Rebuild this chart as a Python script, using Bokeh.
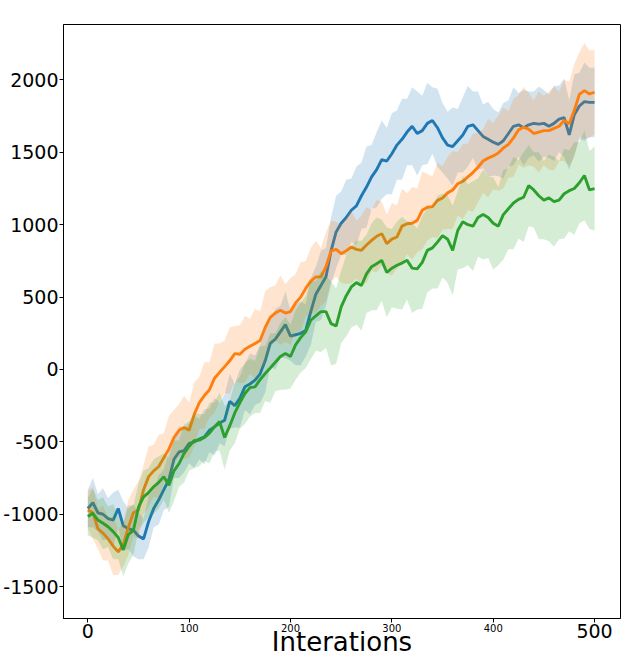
from bokeh.plotting import figure
from bokeh.models import FixedTicker, LinearAxis, ColumnDataSource, Range1d, CustomJSTickFormatter
from bokeh.embed import file_html
from bokeh.resources import INLINE

iterations = list(range(0, 501, 5))

blue_mean = [
    -960, -920, -990, -1000, -1030, -1040, -960, -1080, -1100, -1110,
    -1150, -1170, -1050, -960, -900, -830, -760, -620, -570, -560,
    -510, -500, -480, -465, -420, -396, -370, -350, -220, -250,
    -200, -120, -100, -74, -30, 60, 180, 210, 260, 310,
    230, 240, 250, 270, 400, 520, 580, 640, 820, 950,
    1010, 1050, 1100, 1130, 1200, 1260, 1330, 1380, 1450, 1440,
    1490, 1550, 1590, 1640, 1680, 1630, 1650, 1700, 1720, 1670,
    1600, 1550, 1540, 1580, 1620, 1680, 1690, 1650, 1610, 1590,
    1570, 1555, 1580, 1630, 1680, 1690, 1670, 1690, 1700, 1695,
    1700, 1680, 1700, 1730, 1740, 1620, 1760, 1820, 1850, 1845,
    1845,
]
orange_mean = [
    -970, -990, -1100, -1130, -1170, -1220, -1260, -1210, -1090, -990,
    -970, -830, -740, -700, -670, -610, -550, -470, -420, -400,
    -420, -310, -230, -180, -140, -60, -20, 20, 60, 110,
    105, 140, 160, 180, 200, 290, 360, 390, 410, 390,
    400, 460, 500, 560, 610, 640, 640, 710, 820, 830,
    800, 820, 846, 830, 823, 860, 892, 920, 938, 869,
    900, 915, 990, 1007, 1010, 1030, 1100, 1121, 1125, 1168,
    1185, 1220, 1240, 1283, 1300, 1330, 1360, 1397, 1440, 1460,
    1475, 1495, 1530, 1555, 1600, 1655, 1673, 1660, 1630, 1640,
    1650, 1650, 1665, 1680, 1720, 1697, 1790, 1900, 1926, 1903,
    1915,
]
green_mean = [
    -1016, -993, -1040, -1062, -1086, -1120, -1160, -1246, -1140, -1110,
    -950, -880, -850, -810, -780, -740, -800, -700, -650, -580,
    -530, -490, -488, -470, -440, -396, -360, -470, -390, -300,
    -230, -166, -125, -120, -70, -28, 10, 50, 90, 110,
    90, 170, 220, 260, 340, 370, 400, 400, 317, 300,
    432, 510, 570, 600, 580, 660, 710, 730, 754, 670,
    700, 720, 735, 754, 700, 695, 740, 823, 840, 880,
    925, 900, 823, 960, 1020, 1000, 990, 1050, 1070, 1050,
    1010, 990, 1070, 1110, 1150, 1175, 1190, 1270, 1240, 1200,
    1170, 1185, 1160, 1170, 1214, 1235, 1250, 1290, 1340, 1240,
    1250,
]

blue_std = [
    130, 170, 130, 180, 140, 190, 130, 170, 140, 180,
    160, 140, 180, 130, 170, 140, 190, 130, 180, 150,
    140, 180, 140, 190, 150, 200, 140, 180, 190, 150,
    200, 160, 210, 170, 200, 220, 160, 210, 180, 230,
    170, 210, 220, 180, 230, 190, 240, 200, 230, 250,
    220, 260, 220, 270, 230, 280, 220, 260, 270, 230,
    280, 240, 280, 230, 270, 290, 240, 280, 230, 270,
    240, 230, 270, 220, 260, 280, 230, 270, 220, 260,
    230, 220, 260, 230, 270, 220, 260, 230, 220, 260,
    230, 220, 260, 230, 270, 240, 280, 230, 270, 240,
    240,
]
orange_std = [
    130, 180, 140, 190, 150, 200, 160, 150, 190, 160,
    200, 170, 210, 180, 220, 170, 230, 190, 180, 220,
    190, 220, 180, 230, 190, 240, 200, 180, 230, 190,
    200, 230, 190, 240, 200, 250, 210, 190, 240, 200,
    230, 200, 240, 190, 230, 250, 200, 240, 210, 190,
    200, 230, 250, 200, 240, 260, 210, 250, 220, 200,
    250, 220, 260, 210, 250, 220, 270, 230, 210, 260,
    220, 250, 270, 220, 260, 230, 270, 240, 220, 270,
    230, 260, 280, 230, 270, 240, 280, 250, 230, 280,
    240, 270, 290, 240, 280, 290, 320, 290, 330, 300,
    290,
]
green_std = [
    130, 170, 140, 180, 140, 190, 150, 180, 200, 170,
    160, 180, 170, 190, 180, 160, 190, 210, 160, 200,
    170, 190, 180, 160, 210, 170, 200, 220, 170, 210,
    180, 210, 200, 180, 230, 190, 240, 200, 230, 250,
    220, 240, 240, 250, 270, 240, 280, 250, 290, 260,
    250, 280, 280, 290, 310, 270, 300, 320, 280, 310,
    270, 300, 320, 270, 310, 280, 320, 290, 280, 320,
    290, 300, 310, 270, 320, 280, 310, 270, 310, 280,
    320, 270, 310, 280, 320, 270, 310, 280, 260, 300,
    270, 300, 310, 270, 310, 280, 320, 280, 310, 270,
    290,
]

series = [
    ("#1f77b4", blue_mean, blue_std),
    ("#ff7f0e", orange_mean, orange_std),
    ("#2ca02c", green_mean, green_std),
]

y_ticks = [-1500, -1000, -500, 0, 500, 1000, 1500, 2000]
x_major_ticks = [0, 500]
x_minor_ticks = [100, 200, 300, 400]
x_label = "Interations"

Y0, Y1 = -1720, 2383
X0, X1 = -24, 525.6

p = figure(width=628, height=659, output_backend="svg", toolbar_location=None,
           x_range=Range1d(X0, X1), y_range=Range1d(Y0, Y1),
           min_border_left=62, min_border_right=8, min_border_top=24,
           min_border_bottom=20)
p.background_fill_color = "white"
p.border_fill_color = "white"
p.outline_line_color = "black"
p.outline_line_width = 1
p.xgrid.visible = False
p.ygrid.visible = False

for color, mean, std in series:
    lower = [m - s for m, s in zip(mean, std)]
    upper = [m + s for m, s in zip(mean, std)]
    src = ColumnDataSource(dict(x=iterations, y=mean, lo=lower, hi=upper))
    p.varea(x="x", y1="lo", y2="hi", source=src, fill_color=color, fill_alpha=0.2)
    p.line(x="x", y="y", source=src, line_color=color, line_width=2.9)

font = "DejaVu Sans"
plain = CustomJSTickFormatter(code="return String(tick);")

p.xaxis.ticker = FixedTicker(ticks=x_major_ticks, minor_ticks=x_minor_ticks)
p.yaxis.ticker = FixedTicker(ticks=y_ticks, minor_ticks=[])
for ax in (p.xaxis[0], p.yaxis[0]):
    ax.formatter = plain
    ax.axis_line_color = "black"
    ax.major_tick_line_color = "black"
    ax.minor_tick_line_color = "black"
    ax.major_tick_in = 0
    ax.major_tick_out = 4
    ax.minor_tick_in = 0
    ax.minor_tick_out = 4
    ax.major_label_text_font = font
    ax.major_label_text_font_size = "19px"
    ax.major_label_text_color = "black"
p.yaxis.major_label_standoff = 1
p.xaxis.major_label_standoff = 1

# second bottom axis: small labels (100..400) lifted into the same row, plus the title
small_axis = LinearAxis(ticker=FixedTicker(ticks=x_minor_ticks, minor_ticks=[]),
                        formatter=CustomJSTickFormatter(code="return String(tick);"))
small_axis.axis_line_color = None
small_axis.major_tick_line_color = None
small_axis.minor_tick_line_color = None
small_axis.major_tick_in = 0
small_axis.major_tick_out = 0
small_axis.minor_tick_in = 0
small_axis.minor_tick_out = 0
small_axis.major_label_text_font = font
small_axis.major_label_text_font_size = "10px"
small_axis.major_label_text_color = "black"
small_axis.major_label_standoff = -17
small_axis.axis_label = x_label
small_axis.axis_label_text_font = font
small_axis.axis_label_text_font_size = "26px"
small_axis.axis_label_text_font_style = "normal"
small_axis.axis_label_text_color = "black"
small_axis.axis_label_standoff = -8
p.add_layout(small_axis, "below")

open("out.html", "w").write(file_html(p, INLINE))
